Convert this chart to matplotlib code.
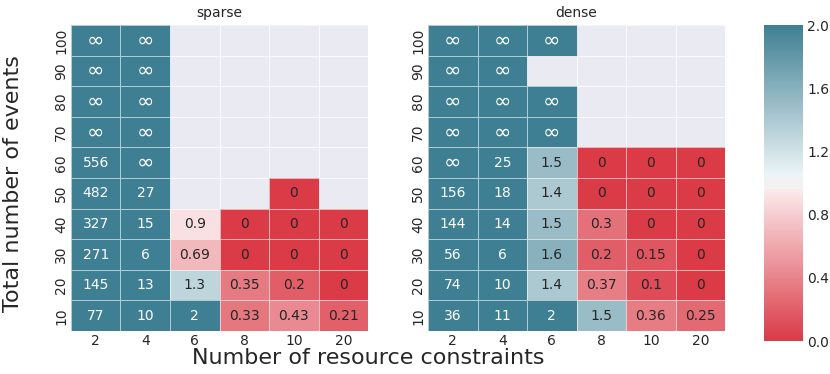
import colorsys
import numpy as np
import matplotlib
matplotlib.use("Agg")
import matplotlib.pyplot as plt
from matplotlib.colors import LinearSegmentedColormap
import seaborn as sns
from seaborn.external import husl

sns.set_theme(style="darkgrid")
plt.rcParams['font.family'] = ['DejaVu Sans']

INF = np.inf
NA = np.nan

constraints = ["2", "4", "6", "8", "10", "20"]
events = ["100", "90", "80", "70", "60", "50", "40", "30", "20", "10"]

sparse = [
    [INF, INF, NA, NA, NA, NA],
    [INF, INF, NA, NA, NA, NA],
    [INF, INF, NA, NA, NA, NA],
    [INF, INF, NA, NA, NA, NA],
    [556, INF, NA, NA, NA, NA],
    [482, 27, NA, NA, 0, NA],
    [327, 15, 0.9, 0, 0, 0],
    [271, 6, 0.69, 0, 0, 0],
    [145, 13, 1.3, 0.35, 0.2, 0],
    [77, 10, 2, 0.33, 0.43, 0.21],
]

dense = [
    [INF, INF, INF, NA, NA, NA],
    [INF, INF, NA, NA, NA, NA],
    [INF, INF, INF, NA, NA, NA],
    [INF, INF, INF, NA, NA, NA],
    [INF, 25, 1.5, 0, 0, 0],
    [156, 18, 1.4, 0, 0, 0],
    [144, 14, 1.5, 0.3, 0, 0],
    [56, 6, 1.6, 0.2, 0.15, 0],
    [74, 10, 1.4, 0.37, 0.1, 0],
    [36, 11, 2, 1.5, 0.36, 0.25],
]

titles = ["sparse", "dense"]


def labels_for(arr):
    out = []
    for row in arr:
        r = []
        for v in row:
            if np.isnan(v):
                r.append("")
            elif np.isinf(v):
                r.append("\u221e")
            else:
                r.append(f"{v:g}")
        out.append(r)
    return np.array(out)


def light_of(rgb):
    h, l, s = colorsys.rgb_to_hls(*rgb)
    return colorsys.hls_to_rgb(h, 0.95, s)


def old_diverging(h_neg, h_pos, s=75, l=50, sep=10):
    neg_c = husl.husl_to_rgb(h_neg, s, l)
    pos_c = husl.husl_to_rgb(h_pos, s, l)
    n_half = int(128 - (sep // 2))
    neg = sns.blend_palette([neg_c, light_of(neg_c)], n_half)
    pos = sns.blend_palette([light_of(pos_c), pos_c], n_half)
    mid = [(0.95, 0.95, 0.95)] * sep
    colors = list(neg) + mid + list(pos)
    return LinearSegmentedColormap.from_list("div", colors, N=256)


cmap = old_diverging(10, 220)

fig = plt.figure(figsize=(8.3, 3.74), dpi=100)
ax1 = fig.add_axes([0.0855, 0.115, 0.358, 0.818])
ax2 = fig.add_axes([0.5157, 0.115, 0.358, 0.818])
cax = fig.add_axes([0.920, 0.088, 0.047, 0.845])

for i, (ax, data, title) in enumerate(zip([ax1, ax2], [sparse, dense], titles)):
    arr = np.array(data, dtype=float)
    plotdata = np.where(np.isinf(arr), 1e6, arr)
    sns.heatmap(plotdata, ax=ax, cmap=cmap, vmin=0, vmax=2,
                annot=labels_for(arr), fmt="", annot_kws={"fontsize": 10},
                linewidths=0.5, linecolor=(1, 1, 1, 0.6),
                cbar=(i == 1), cbar_ax=cax if i == 1 else None,
                xticklabels=constraints, yticklabels=events)
    vals = [v for row in arr for v in row if not np.isnan(v)]
    for t, v in zip(ax.texts, vals):
        t.set_color("white" if v >= 2 else "#262626")
        if np.isinf(v):
            t.set_fontsize(15)
    ax.set_facecolor("#EAEAF2")
    ax.grid(False)
    ax.set_title(title, fontsize=10)
    ax.tick_params(axis="both", labelsize=10, length=0, pad=2)
    plt.setp(ax.get_yticklabels(), rotation=90, va="center")
    plt.setp(ax.get_xticklabels(), rotation=0)

cax.tick_params(labelsize=10, length=0)
cax.set_yticks([0.0, 0.4, 0.8, 1.2, 1.6, 2.0])
cax.set_yticklabels(["0.0", "0.4", "0.8", "1.2", "1.6", "2.0"])
for s in cax.spines.values():
    s.set_visible(False)

fig.text(0.444, 0.044, "Number of resource constraints", ha="center", va="center", fontsize=16)
fig.text(0.016, 0.51, "Total number of events", ha="center", va="center", rotation=90, fontsize=16)

fig.savefig("out.png", dpi=100)
